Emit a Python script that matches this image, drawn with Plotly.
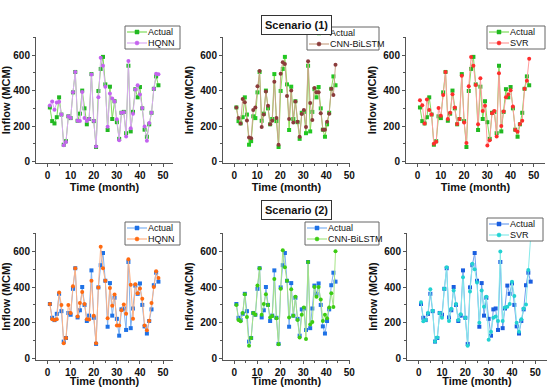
import plotly.graph_objects as go

months = list(range(1, 49))
# CNN-BiLSTM panels are drawn on a compressed time base (ends near month 44)
time_cnn = [m * 44 / 48 for m in months]

actual = [305, 228, 215, 250, 362, 265, 95, 115, 255, 245, 390, 505,
          230, 270, 400, 300, 210, 240, 493, 228, 82, 398, 522, 590,
          435, 178, 422, 240, 340, 222, 128, 275, 280, 160, 540, 170,
          280, 408, 362, 420, 300, 180, 140, 210, 275, 410, 480, 430]

hqnn_s1 = [316, 338, 292, 333, 337, 265, 92, 110, 255, 245, 390, 505,
           230, 228, 392, 245, 228, 240, 490, 228, 85, 362, 585, 540,
           422, 196, 383, 356, 338, 238, 120, 275, 278, 142, 567, 188,
           270, 406, 430, 378, 302, 198, 118, 218, 275, 410, 495, 492]

cnn_s1 = [305, 245, 215, 352, 335, 232, 135, 132, 290, 305, 425, 510,
          195, 265, 395, 315, 210, 230, 450, 245, 95, 495, 560, 550,
          370, 240, 400, 220, 338, 225, 140, 268, 290, 195, 565, 330,
          235, 415, 390, 390, 272, 180, 180, 225, 270, 410, 375, 545]

svr_s1 = [345, 318, 215, 350, 290, 265, 100, 112, 302, 258, 375, 505,
          240, 275, 380, 305, 212, 240, 483, 220, 105, 425, 590, 540,
          432, 210, 470, 285, 315, 90, 120, 272, 285, 142, 498, 200,
          282, 362, 378, 402, 310, 178, 168, 212, 230, 410, 455, 580]

hqnn_s2 = [305, 220, 215, 220, 370, 300, 85, 115, 300, 255, 405, 505,
           235, 310, 372, 305, 220, 218, 435, 240, 85, 398, 625, 505,
           435, 225, 395, 295, 358, 185, 185, 270, 302, 250, 555, 412,
           222, 415, 365, 392, 335, 185, 158, 212, 310, 400, 488, 450]

cnn_s2 = [300, 215, 208, 255, 360, 232, 72, 115, 255, 245, 408, 505,
          245, 305, 360, 300, 230, 238, 445, 225, 80, 390, 605, 510,
          435, 230, 388, 240, 345, 215, 118, 245, 285, 110, 540, 190,
          205, 400, 345, 400, 330, 210, 245, 225, 285, 365, 288, 600]

svr_s2 = [315, 208, 215, 255, 388, 268, 95, 118, 255, 228, 390, 510,
          210, 278, 380, 305, 215, 248, 455, 228, 72, 375, 530, 500,
          425, 200, 380, 290, 345, 105, 150, 228, 235, 210, 598, 210,
          285, 290, 305, 430, 350, 200, 150, 220, 280, 302, 495, 680]

W, H = 550, 387
FONT = "Arial, Liberation Sans, sans-serif"

panels = [
    dict(xd=(36, 173), yd=(37, 163), t=months, name="HQNN", vals=hqnn_s1,
         ac=("#22b822", "#7fdc5a"), mc=("#c463ef", "#dbaaf4"), xr=[-5, 54.3],
         leg=(125, 26, 55)),
    dict(xd=(223, 350), yd=(37, 163), t=time_cnn, name="CNN-BiLSTM", vals=cnn_s1,
         ac=("#22c822", "#8fdc5a"), mc=("#8b3b3b", "#c9a589"), xr=[-4.9, 50.3],
         leg=(307, 27, 72)),
    dict(xd=(406, 545), yd=(37, 163), t=months, name="SVR", vals=svr_s1,
         ac=("#22b822", "#7fdc5a"), mc=("#ff2d2d", "#ff9d9d"), xr=[-5, 54.8],
         leg=(487, 26, 58)),
    dict(xd=(36, 173), yd=(233, 360), t=months, name="HQNN", vals=hqnn_s2,
         ac=("#1f72e6", "#7fb3f2"), mc=("#ff6a10", "#ffb285"), xr=[-5, 54.3],
         leg=(125, 222, 55)),
    dict(xd=(223, 350), yd=(233, 360), t=time_cnn, name="CNN-BiLSTM", vals=cnn_s2,
         ac=("#1f72e6", "#7fb3f2"), mc=("#3ccc12", "#a6e486"), xr=[-4.9, 50.3],
         leg=(305, 222, 74)),
    dict(xd=(407, 547), yd=(233, 360), t=months, name="SVR", vals=svr_s2,
         ac=("#1a5ee0", "#6fa0ee"), mc=("#22d2d2", "#86eaea"), xr=[-5, 55],
         leg=(487, 218, 56)),
]

fig = go.Figure()
layout = {}
shapes = []
annotations = []


def px(x):
    return x / W


def py(y):
    return 1 - y / H


for i, p in enumerate(panels):
    k = "" if i == 0 else str(i + 1)
    fig.add_trace(go.Scatter(
        x=p["t"], y=actual, mode="lines+markers", name="Actual",
        line=dict(color=p["ac"][1], width=1),
        marker=dict(symbol="square", size=4, color=p["ac"][0]),
        xaxis="x" + k, yaxis="y" + k, showlegend=False))
    fig.add_trace(go.Scatter(
        x=p["t"], y=p["vals"], mode="lines+markers", name=p["name"],
        line=dict(color=p["mc"][1], width=1),
        marker=dict(symbol="circle", size=4, color=p["mc"][0]),
        xaxis="x" + k, yaxis="y" + k, showlegend=False))
    ax = dict(
        showline=True, linecolor="#555555", linewidth=1, mirror=False, automargin=False,
        ticks="outside", ticklen=3, tickcolor="#555555", showgrid=False, zeroline=False,
        tickfont=dict(family=FONT, size=10, color="#111111", weight="bold"),
    )
    layout["xaxis" + k] = dict(
        ax, domain=[px(p["xd"][0]), px(p["xd"][1])], range=p["xr"],
        anchor="y" + k, tickmode="array", tickvals=[0, 10, 20, 30, 40, 50],
        minor=dict(ticks="outside", ticklen=2, tickvals=[5, 15, 25, 35, 45], tickcolor="#555555"),
        title=dict(text="Time (month)", standoff=1,
                   font=dict(family=FONT, size=11, color="#111111", weight="bold")))
    layout["yaxis" + k] = dict(
        ax, domain=[py(p["yd"][1]), py(p["yd"][0])], range=[-8, 702],
        anchor="x" + k, tickmode="array", tickvals=[0, 200, 400, 600],
        minor=dict(ticks="outside", ticklen=2, tickvals=[100, 300, 500, 700], tickcolor="#555555"),
        title=dict(text="Inflow (MCM)", standoff=4,
                   font=dict(family=FONT, size=11, color="#111111", weight="bold")))

    # compact legend drawn as shapes + text
    lx, ly, lw = p["leg"]
    lh = 23
    shapes.append(dict(type="rect", xref="paper", yref="paper",
                       x0=px(lx), x1=px(lx + lw), y0=py(ly + lh), y1=py(ly),
                       line=dict(color="#666666", width=1), fillcolor="white", layer="above"))
    for j, (lab, cols, sym) in enumerate([("Actual", p["ac"], "rect"),
                                          (p["name"], p["mc"], "circle")]):
        yy = ly + 6 + j * 11
        shapes.append(dict(type="line", xref="paper", yref="paper",
                           x0=px(lx + 2), x1=px(lx + 22), y0=py(yy), y1=py(yy),
                           line=dict(color=cols[1], width=1.2), layer="above"))
        shapes.append(dict(type=sym, xref="paper", yref="paper",
                           x0=px(lx + 10), x1=px(lx + 14), y0=py(yy + 2), y1=py(yy - 2),
                           line=dict(color=cols[0], width=0.5), fillcolor=cols[0], layer="above"))
        annotations.append(dict(text=lab, xref="paper", yref="paper",
                                x=px(lx + 22), y=py(yy), xanchor="left", yanchor="middle",
                                showarrow=False, borderpad=0,
                                font=dict(family=FONT, size=9, color="#111111")))

for txt, cy in [("Scenario (1)", 15), ("Scenario (2)", 210)]:
    annotations.append(dict(
        text=txt, x=296 / W, y=1 - cy / H, xref="paper", yref="paper",
        showarrow=False, bordercolor="#333333", borderwidth=1, borderpad=3,
        bgcolor="white",
        font=dict(family=FONT, size=11, color="#111111", weight="bold")))

fig.update_layout(
    width=W, height=H, margin=dict(l=0, r=0, t=0, b=0),
    paper_bgcolor="white", plot_bgcolor="white", showlegend=False,
    shapes=shapes, annotations=annotations, **layout)

fig.write_html("out.html", config={"displayModeBar": False},
               post_script="document.body.style.margin='0';document.body.style.padding='0';"
                           "document.body.style.overflow='hidden';")
